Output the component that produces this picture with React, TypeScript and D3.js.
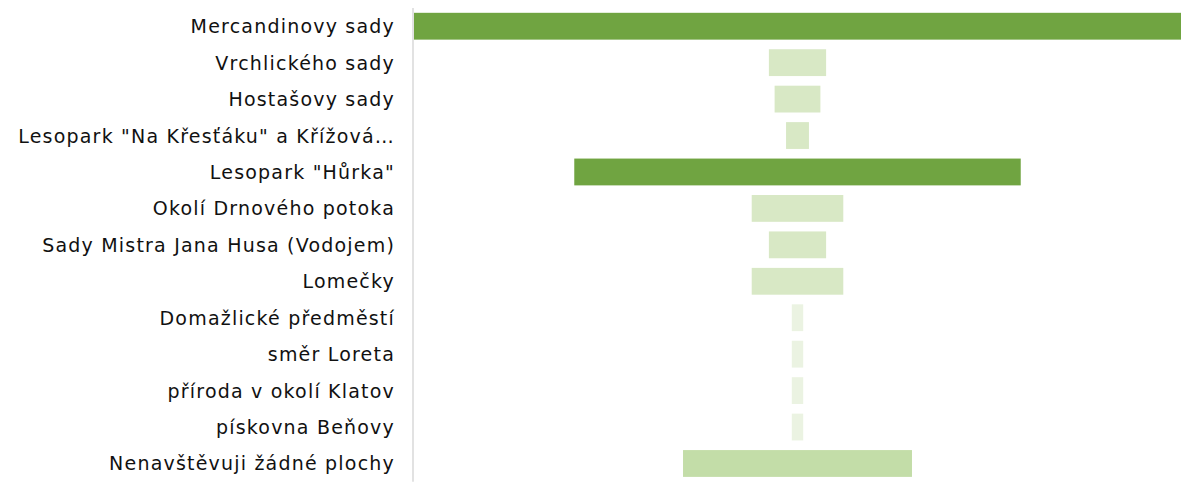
import React from "react";
import * as d3 from "d3";

// categories top to bottom
const categories: string[] = [
  "Mercandinovy sady",
  "Vrchlického sady",
  "Hostašovy sady",
  "Lesopark \"Na Křesťáku\" a Křížová…",
  "Lesopark \"Hůrka\"",
  "Okolí Drnového potoka",
  "Sady Mistra Jana Husa (Vodojem)",
  "Lomečky",
  "Domažlické předměstí",
  "směr Loreta",
  "příroda v okolí Klatov",
  "pískovna Beňovy",
  "Nenavštěvuji žádné plochy",
];

const counts: number[] = [67, 5, 4, 2, 39, 8, 5, 8, 1, 1, 1, 1, 20];

const W = 1189;
const H = 492;

const App = () => {
  const maxVal = d3.max(counts) as number;

  // centred bars: the value is spread around zero
  const x = d3.scaleLinear()
    .domain([-maxVal / 2, maxVal / 2])
    .range([414, 1181]);

  const y = d3.scaleBand<string>()
    .domain(categories)
    .range([8, 481.7])
    .paddingInner(0.264)
    .paddingOuter(0.132);

  // shade by size
  const color = d3.scaleThreshold<number, string>()
    .domain([2, 10, 30])
    .range(["#EBF3E2", "#D8E8C5", "#C3DDA8", "#70A441"]);

  return (
    <div style={{ position: "fixed", left: 0, top: 0 }}>
      <svg width={W} height={H} style={{ display: "block", background: "#fff" }}>
        {categories.map((c, i) => {
          const v = counts[i];
          return (
            <g key={c}>
              <rect
                x={x(-v / 2)}
                y={y(c)}
                width={x(v / 2) - x(-v / 2)}
                height={y.bandwidth()}
                fill={color(v)}
              />
              <text
                x={395}
                y={(y(c) as number) + y.bandwidth() / 2}
                textAnchor="end"
                dominantBaseline="central"
                fontFamily="'DejaVu Sans', sans-serif"
                fontSize="19px"
                letterSpacing="1.2px"
                fill="#111"
              >
                {c}
              </text>
            </g>
          );
        })}
        <line x1={413} x2={413} y1={8} y2={481.7} stroke="#D9D9D9" strokeWidth={1.5} />
      </svg>
    </div>
  );
};

export default App;
